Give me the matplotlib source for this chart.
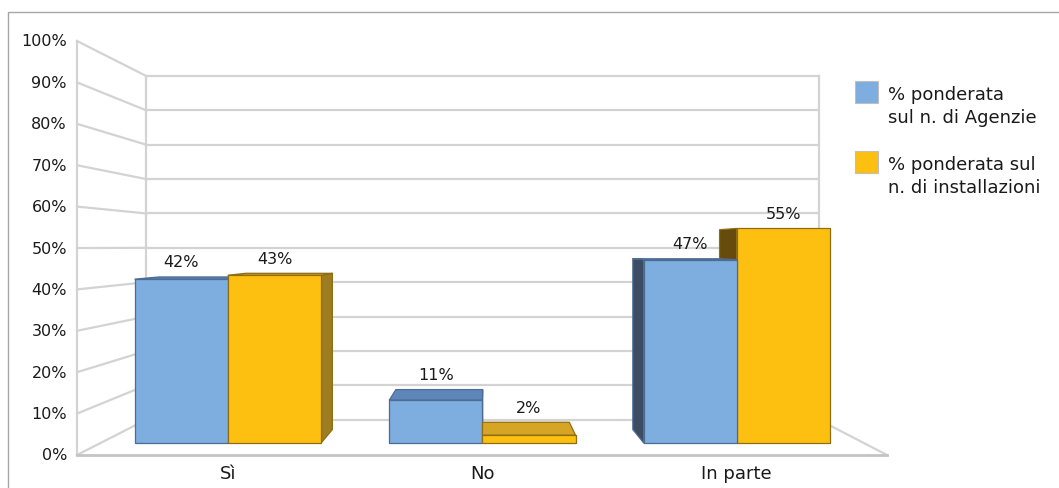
import matplotlib.pyplot as plt
from matplotlib.patches import Polygon, Rectangle

categories = ['Sì', 'No', 'In parte']
agenzie = [42, 11, 47]
installazioni = [43, 2, 55]
series_names = ['% ponderata\nsul n. di Agenzie', '% ponderata sul\nn. di installazioni']
ticks = list(range(0, 101, 10))

# colours: front, top, right side, left side, edge
blue = ('#7EADE0', '#5F86B8', '#4F6E98', '#3B4C63', '#4C6C94')
gold = ('#FDC010', '#D6A526', '#9E7D22', '#664A0E', '#8F6E12')

# pseudo-3D geometry in pixel space (front plane + vanishing point)
X0, CAT_W = 77, 270
Y0, H = 456, 414
VPX, VPY = 485, 248
SHRINK = 0.17
Z_FRONT, Z_BACK = 0.34, 0.72
BAR_OFF, BAR_W = 0.135, 0.366


def proj(u, v, z):
    fx = X0 + u * CAT_W
    fy = Y0 - v / 100 * H
    s = 1 - SHRINK * z
    return VPX + s * (fx - VPX), VPY + s * (fy - VPY)


fig = plt.figure(figsize=(10.59, 4.89), dpi=100)
ax = fig.add_axes([0, 0, 1, 1])
ax.set_xlim(0, 1059)
ax.set_ylim(489, 0)
ax.axis('off')

ax.add_patch(Rectangle((8, 13), 1070, 500, fill=False, ec='#A6A6A6', lw=1))

grid_c = '#D3D3D3'
n = len(categories)
# back wall + side wall grid
for t in ticks:
    (xa, ya), (xb, yb), (xc, yc) = proj(0, t, 0), proj(0, t, 1), proj(n, t, 1)
    ax.plot([xa, xb], [ya, yb], color=grid_c, lw=1.6, zorder=1)
    ax.plot([xb, xc], [yb, yc], color=grid_c, lw=1.6, zorder=1)
    ax.text(67, ya, f'{t}%', ha='right', va='center', fontsize=11.5, color='#1a1a1a')

for u, z0, z1, v0, v1 in [(0, 0, 0, 0, 100), (0, 1, 1, 0, 100), (n, 1, 1, 0, 100),
                          (0, 0, 0, 0, 0), (n, 0, 1, 0, 0)]:
    pa, pb = proj(u, v0, z0), proj(u, v1, z1)
    ax.plot([pa[0], pb[0]], [pa[1], pb[1]], color=grid_c, lw=1.6, zorder=1)
pa, pb = proj(0, 0, 0), proj(n, 0, 0)
ax.plot([pa[0], pb[0]], [pa[1], pb[1]], color='#C4C4C4', lw=2, zorder=1)

# bars
bars = []
for i in range(n):
    for j, (vals, col) in enumerate([(agenzie, blue), (installazioni, gold)]):
        ul = i + BAR_OFF + j * BAR_W
        bars.append((ul, ul + BAR_W, vals[i], col))

bars.sort(key=lambda b: -abs(proj((b[0] + b[1]) / 2, 0, Z_FRONT)[0] - VPX))
zo = 2
for ul, ur, v, col in bars:
    faces = []
    if proj(ur, 0, 0)[0] < VPX:
        faces.append(([(ur, 0, Z_FRONT), (ur, 0, Z_BACK), (ur, v, Z_BACK), (ur, v, Z_FRONT)], col[2]))
    if proj(ul, 0, 0)[0] > VPX:
        faces.append(([(ul, 0, Z_FRONT), (ul, 0, Z_BACK), (ul, v, Z_BACK), (ul, v, Z_FRONT)], col[3]))
    if proj(ul, v, 0)[1] > VPY:
        faces.append(([(ul, v, Z_FRONT), (ur, v, Z_FRONT), (ur, v, Z_BACK), (ul, v, Z_BACK)], col[1]))
    faces.append(([(ul, 0, Z_FRONT), (ur, 0, Z_FRONT), (ur, v, Z_FRONT), (ul, v, Z_FRONT)], col[0]))
    for pts, fc in faces:
        ax.add_patch(Polygon([proj(*p) for p in pts], closed=True, fc=fc, ec=col[4],
                             lw=0.9, joinstyle='round', zorder=zo))
        zo += 1
    xf, yf = proj((ul + ur) / 2, v, Z_FRONT)
    yb = proj((ul + ur) / 2, v, Z_BACK)[1]
    ax.text(xf, min(yf, yb) - 15, f'{v}%', ha='center', va='center', fontsize=11.5,
            color='#1a1a1a', zorder=50)

for i, c in enumerate(categories):
    x, _ = proj(i + 0.5, 0, Z_FRONT)
    ax.text(x, 474, c, ha='center', va='center', fontsize=13, color='#1a1a1a')

# legend
for k, (name, col) in enumerate(zip(series_names, [blue, gold])):
    top = 82 + k * 70
    ax.add_patch(Rectangle((855, top), 23, 22, fc=col[0], ec='#BFBFBF', lw=0.8))
    for m, line in enumerate(name.split('\n')):
        ax.text(888, top + 18 + m * 23, line, ha='left', va='baseline', fontsize=13,
                color='#1a1a1a')

fig.savefig('out.png', dpi=100)
